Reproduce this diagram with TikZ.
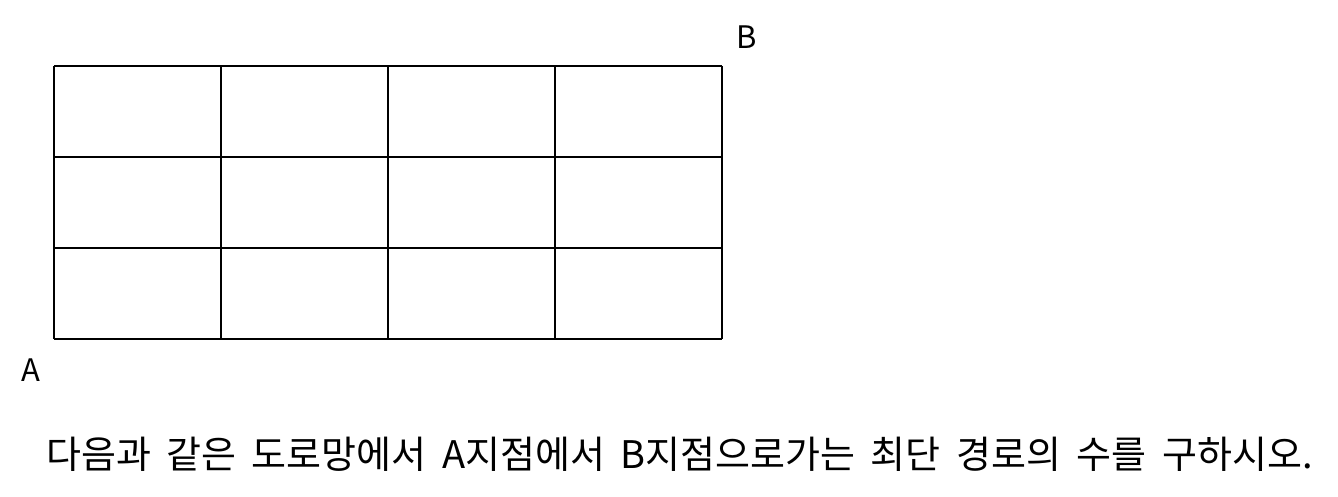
\documentclass[tikz,border=0pt]{standalone}
\usepackage{fontspec}
\newfontfamily\kr{Noto Sans CJK KR}
\begin{document}
\begin{tikzpicture}[x=1pt,y=-1pt,
  gridline/.style={line width=1.8pt,black},
  lbl/.style={font=\kr\fontsize{31}{36}\selectfont,inner sep=0pt},
  qlbl/.style={font=\kr\fontsize{38}{44}\selectfont,inner sep=0pt}]
\useasboundingbox (0,0) rectangle (1338,497);
\foreach \i in {0,...,4} \draw[gridline] (54+167*\i,66) -- (54+167*\i,339);
\foreach \j in {0,...,3} \draw[gridline] (54,66+91*\j) -- (722,66+91*\j);
\coordinate (a) at (54,339);
\coordinate (b) at (722,66);
\node[lbl] (A) at (31,370) {A};
\node[lbl] (B) at (747,37) {B};
\node[qlbl,anchor=base west] (q) at (46,468) {\spaceskip=15.5pt\relax 다음과 같은 도로망에서 A지점에서 B지점으로가는 최단 경로의 수를 구하시오.};
\end{tikzpicture}
\end{document}
